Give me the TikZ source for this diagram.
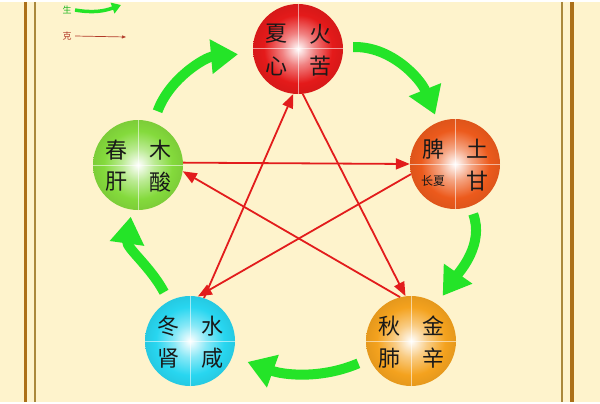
\documentclass[tikz,border=0pt]{standalone}
\usepackage{fontspec}
\newfontfamily\cjk{Noto Sans CJK SC}
\usetikzlibrary{arrows.meta}

%couleurs
\definecolor{fond}{RGB}{254,243,204}
\definecolor{cadrefonce}{RGB}{172,112,24}
\definecolor{cadreclair}{RGB}{170,136,60}
\definecolor{feucol}{RGB}{228,26,26}
\definecolor{terrecol}{RGB}{236,90,28}
\definecolor{metalcol}{RGB}{244,162,30}
\definecolor{eaucol}{RGB}{40,214,240}
\definecolor{boiscol}{RGB}{132,218,60}
\definecolor{vert}{RGB}{36,228,40}
\definecolor{kerouge}{RGB}{226,28,28}
\definecolor{brun}{RGB}{178,58,40}
\colorlet{boulecol}{red}

%degrade des boules
\pgfdeclareradialshading[boulecol]{orbe}{\pgfpoint{0bp}{0bp}}{color(0bp)=(white);
  color(9bp)=(boulecol!55!white); color(19bp)=(boulecol); color(25bp)=(boulecol!94!black);
  color(50bp)=(boulecol!94!black)}

\begin{document}
\begin{tikzpicture}[x=1pt,y=-1pt]
\tikzstyle{boule} = [circle,minimum size=90pt,inner sep=0pt] %les cinq elements
\tikzset{teinte/.style={/utils/exec={\colorlet{boulecol}{#1}},shading=orbe}}
\tikzstyle{zi} = [font=\cjk\fontsize{22}{22}\selectfont,text=black!90]
\tikzstyle{ke} = [draw=kerouge,line width=1.8pt,-{Triangle[length=14pt,width=11pt]}]
\tikzstyle{sheng} = [draw=vert,line width=10pt,-{Triangle[length=27pt,width=33pt]}]

%fond et cadre
\fill[fond] (0,0) rectangle (600,400);
\draw[cadrefonce,line width=3pt] (25.5,0)--(25.5,400);
\draw[cadreclair,line width=1.5pt] (35,0)--(35,400);
\draw[cadreclair,line width=2pt] (562,0)--(562,400);
\draw[cadrefonce,line width=4pt] (571.5,0)--(571.5,400);

%legende
\node[font=\cjk\fontsize{9}{9}\selectfont,text=vert!80!black] (lsheng) at (67,8) {生};
\coordinate (lshengfin) at (121,3);
\draw[vert,line width=3.5pt,-{Triangle[length=9pt,width=11pt]}] (lsheng.east) to[out=-10,in=200] (lshengfin);
\node[font=\cjk\fontsize{9}{9}\selectfont,text=brun] (lke) at (67,34) {克};
\coordinate (lkefin) at (126,35);
\draw[brun,line width=0.7pt,-{Triangle[length=4pt,width=3pt]}] (lke.east)--(lkefin);

%les boules
\node[boule,teinte=feucol] (feu) at (298,47) {};
\node[boule,teinte=terrecol] (terre) at (455,162) {};
\node[boule,teinte=metalcol] (metal) at (411,339) {};
\node[boule,teinte=eaucol] (eau) at (190,339) {};
\node[boule,teinte=boiscol] (bois) at (138,163) {};

%croix blanches
\foreach \b in {feu,terre,metal,eau,bois}
  \draw[white,opacity=0.55,line width=1pt] (\b.north)--(\b.south) (\b.west)--(\b.east);

%caracteres
\foreach \b/\hg/\hd/\bg/\bd in {feu/夏/火/心/苦,terre/脾/土/{\fontsize{12}{12}\selectfont 长夏}/甘,
    metal/秋/金/肺/辛,eau/冬/水/肾/咸,bois/春/木/肝/酸}{
  \node[zi] (\b-hg) at ([shift={(-22,-15)}]\b.center) {\hg};
  \node[zi] (\b-hd) at ([shift={(22,-15)}]\b.center) {\hd};
  \node[zi] (\b-bg) at ([shift={(-22,17)}]\b.center) {\bg};
  \node[zi] (\b-bd) at ([shift={(22,17)}]\b.center) {\bd};
}

%etoile (ke)
\draw[ke] (bois.3)--(terre.180);
\draw[ke] (terre.193)--(eau.80);
\draw[ke] (eau.72)--(feu.264);
\draw[ke] (feu.276)--(metal.97);
\draw[ke] (metal.104)--(bois.352);

%cycle exterieur (sheng)
\draw[sheng,shorten <=12pt,shorten >=15pt] (bois) to[out=70,in=185] (feu);
\draw[sheng,shorten <=10pt,shorten >=8pt] (feu) to[out=2,in=112] (terre);
\draw[sheng,shorten <=8pt,shorten >=10pt] (terre) to[out=290,in=55] (metal);
\draw[sheng,shorten <=12pt,shorten >=16pt] (metal) to[out=203,in=340] (eau);
\draw[sheng,shorten <=10pt,shorten >=7pt] (eau) to[out=118,in=262] (bois);
\end{tikzpicture}
\end{document}
